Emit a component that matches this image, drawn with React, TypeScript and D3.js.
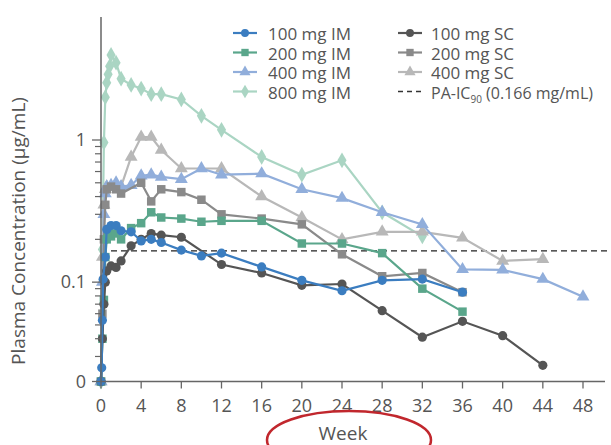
import React from "react";
import * as d3 from "d3";

const weeks100IM = [0, 0.07, 0.14, 0.21, 0.43, 0.57, 1, 1.5, 2, 3, 4, 5, 6, 8, 10, 12, 16, 20, 24, 28, 32, 36];
const vals100IM = [0.02, 0.025, 0.054, 0.105, 0.15, 0.235, 0.25, 0.25, 0.23, 0.226, 0.195, 0.2, 0.19, 0.168, 0.153, 0.16, 0.128, 0.103, 0.087, 0.103, 0.105, 0.085];

const weeks200IM = [0, 0.14, 0.29, 0.43, 0.57, 0.71, 1, 1.5, 2, 3, 4, 5, 6, 8, 10, 12, 16, 20, 24, 28, 32, 36];
const vals200IM = [0.02, 0.04, 0.075, 0.15, 0.2, 0.22, 0.21, 0.22, 0.2, 0.24, 0.26, 0.31, 0.285, 0.28, 0.266, 0.27, 0.27, 0.187, 0.187, 0.16, 0.09, 0.062];

const weeks400IM = [0, 0.14, 0.29, 0.43, 0.57, 1, 1.5, 2, 3, 4, 5, 6, 8, 10, 12, 16, 20, 24, 28, 32, 36, 40, 44, 48];
const vals400IM = [0.02, 0.1, 0.3, 0.42, 0.47, 0.48, 0.5, 0.47, 0.48, 0.56, 0.57, 0.55, 0.53, 0.63, 0.57, 0.58, 0.45, 0.39, 0.31, 0.255, 0.123, 0.122, 0.105, 0.079];

const weeks800IM = [0, 0.14, 0.29, 0.43, 0.57, 0.71, 0.86, 1, 1.5, 2, 3, 4, 5, 6, 8, 10, 12, 16, 20, 24, 28, 32];
const vals800IM = [0.02, 0.17, 0.96, 2.0, 2.53, 2.9, 3.3, 3.97, 3.5, 2.7, 2.44, 2.3, 2.1, 2.1, 1.93, 1.48, 1.18, 0.76, 0.57, 0.72, 0.31, 0.21];

const weeks100SC = [0, 0.14, 0.29, 0.43, 0.57, 1, 1.5, 2, 3, 4, 5, 6, 8, 12, 16, 20, 24, 28, 32, 36, 40, 44];
const vals100SC = [0.02, 0.04, 0.07, 0.1, 0.12, 0.13, 0.127, 0.141, 0.18, 0.2, 0.22, 0.214, 0.207, 0.133, 0.116, 0.095, 0.097, 0.063, 0.041, 0.053, 0.042, 0.026];

const weeks200SC = [0, 0.14, 0.29, 0.43, 0.57, 1, 1.5, 2, 4, 5, 6, 8, 10, 12, 16, 20, 24, 28, 32, 36];
const vals200SC = [0.02, 0.06, 0.2, 0.35, 0.45, 0.47, 0.45, 0.42, 0.5, 0.37, 0.45, 0.43, 0.38, 0.3, 0.28, 0.255, 0.157, 0.11, 0.116, 0.085];

const weeks400SC = [0, 0.14, 0.29, 0.43, 0.57, 1, 2, 3, 4, 5, 6, 8, 12, 16, 20, 24, 28, 32, 36, 40, 44];
const vals400SC = [0.02, 0.15, 0.35, 0.45, 0.47, 0.47, 0.47, 0.76, 1.05, 1.05, 0.85, 0.63, 0.63, 0.4, 0.285, 0.2, 0.226, 0.226, 0.205, 0.141, 0.145];

const xTicks = [0, 4, 8, 12, 16, 20, 24, 28, 32, 36, 40, 44, 48];
const yMajorTicks = [0.02, 0.1, 1];
const yMajorLabels = ["0", "0.1", "1"];
const yMinorTicks = [0.03, 0.04, 0.05, 0.06, 0.07, 0.08, 0.09, 0.2, 0.3, 0.4, 0.5, 0.6, 0.7, 0.8, 0.9];
const icValue = 0.166;

type Series = { name: string; weeks: number[]; vals: number[]; color: string; symbol: d3.SymbolType; size: number };

const series: Series[] = [
  { name: "100 mg IM", weeks: weeks100IM, vals: vals100IM, color: "#3b7dc0", symbol: d3.symbolCircle, size: 66 },
  { name: "200 mg IM", weeks: weeks200IM, vals: vals200IM, color: "#5aa68b", symbol: d3.symbolSquare, size: 72 },
  { name: "400 mg IM", weeks: weeks400IM, vals: vals400IM, color: "#91aedb", symbol: d3.symbolTriangle, size: 72 },
  { name: "800 mg IM", weeks: weeks800IM, vals: vals800IM, color: "#aad5c3", symbol: d3.symbolDiamond, size: 72 },
  { name: "100 mg SC", weeks: weeks100SC, vals: vals100SC, color: "#555555", symbol: d3.symbolCircle, size: 66 },
  { name: "200 mg SC", weeks: weeks200SC, vals: vals200SC, color: "#8a8a8a", symbol: d3.symbolSquare, size: 72 },
  { name: "400 mg SC", weeks: weeks400SC, vals: vals400SC, color: "#b8b8b8", symbol: d3.symbolTriangle, size: 72 },
];

const drawOrder = [3, 6, 2, 5, 1, 4, 0];

const FONT = "'Open Sans', 'Noto Sans', sans-serif";
const TXT = "#555";

export default function App() {
  const W = 611, H = 445;
  const x0 = 101;
  const yBottom = 381.5;
  const x = d3.scaleLinear().domain([0, 48]).range([x0, 583]);
  const y = d3.scaleLog().domain([0.02, 1]).range([yBottom, 140]);
  const line = d3.line<[number, number]>().x((d) => x(d[0])).y((d) => y(Math.max(0.02, d[1])));

  const legendCols = [
    { lx: 233, tx: 268 },
    { lx: 398, tx: 431 },
  ];
  const rowY = [33, 52.5, 72, 91.5];

  return (
    <svg width={W} height={H} style={{ position: "absolute", left: 0, top: 0, background: "#fff" }} fontFamily={FONT}>
      {/* reference line */}
      <line x1={x0} x2={611} y1={y(icValue)} y2={y(icValue)} stroke="#222" strokeWidth={1.3} strokeDasharray="6,4" />

      {/* series */}
      {drawOrder.map((i) => {
        const s = series[i];
        const pts: [number, number][] = s.weeks.map((w, k) => [w, s.vals[k]]);
        const sym = d3.symbol().type(s.symbol).size(s.size)() || "";
        return (
          <g key={s.name}>
            <path d={line(pts) || ""} fill="none" stroke={s.color} strokeWidth={2.2} />
            {pts.map((p, k) => (
              <path key={k} d={sym} transform={`translate(${x(p[0])},${y(Math.max(0.02, p[1]))})`} fill={s.color} />
            ))}
          </g>
        );
      })}

      {/* axes */}
      <line x1={x0} x2={x0} y1={17} y2={yBottom} stroke="#666" strokeWidth={1.5} />
      <line x1={x0} x2={605} y1={yBottom} y2={yBottom} stroke="#666" strokeWidth={1.5} />
      {xTicks.map((t) => (
        <g key={t}>
          <line x1={x(t)} x2={x(t)} y1={yBottom} y2={yBottom + 7} stroke="#666" strokeWidth={1.3} />
          <text x={x(t)} y={412} textAnchor="middle" fontSize={18} fill={TXT}>{t}</text>
        </g>
      ))}
      {yMajorTicks.map((t, k) => (
        <g key={t}>
          <line x1={x0 - 9} x2={x0} y1={y(t)} y2={y(t)} stroke="#666" strokeWidth={1.3} />
          <text x={86} y={y(t)} dy="0.35em" textAnchor="end" fontSize={18} fill={TXT}>{yMajorLabels[k]}</text>
        </g>
      ))}
      {yMinorTicks.map((t) => (
        <line key={t} x1={x0 - 6} x2={x0} y1={y(t)} y2={y(t)} stroke="#666" strokeWidth={1.2} />
      ))}

      {/* axis titles */}
      <text transform={`translate(25,231) rotate(-90)`} textAnchor="middle" fontSize={19} fill={TXT}>
        Plasma Concentration (μg/mL)
      </text>
      <text x={343} y={440} textAnchor="middle" fontSize={19} fill={TXT}>Week</text>
      <ellipse cx={349} cy={440} rx={82} ry={29} fill="none" stroke="#c1272d" strokeWidth={2.5} />

      {/* legend */}
      {series.map((s, i) => {
        const col = legendCols[i < 4 ? 0 : 1];
        const ry = rowY[i < 4 ? i : i - 4];
        const sym = d3.symbol().type(s.symbol).size(s.size * 0.75)() || "";
        return (
          <g key={s.name}>
            <line x1={col.lx} x2={col.lx + 24} y1={ry} y2={ry} stroke={s.color} strokeWidth={2.2} />
            <path d={sym} transform={`translate(${col.lx + 12},${ry})`} fill={s.color} />
            <text x={col.tx} y={ry + 7} fontSize={17} fill={TXT}>{s.name}</text>
          </g>
        );
      })}
      <line x1={legendCols[1].lx} x2={legendCols[1].lx + 24} y1={rowY[3]} y2={rowY[3]} stroke="#333" strokeWidth={1.3} strokeDasharray="5,4" />
      <text x={legendCols[1].tx} y={rowY[3] + 7} fontSize={16} fill={TXT}>
        PA-IC<tspan fontSize={10} dy={4}>90</tspan>
        <tspan dy={-4}> (0.166 mg/mL)</tspan>
      </text>
    </svg>
  );
}
